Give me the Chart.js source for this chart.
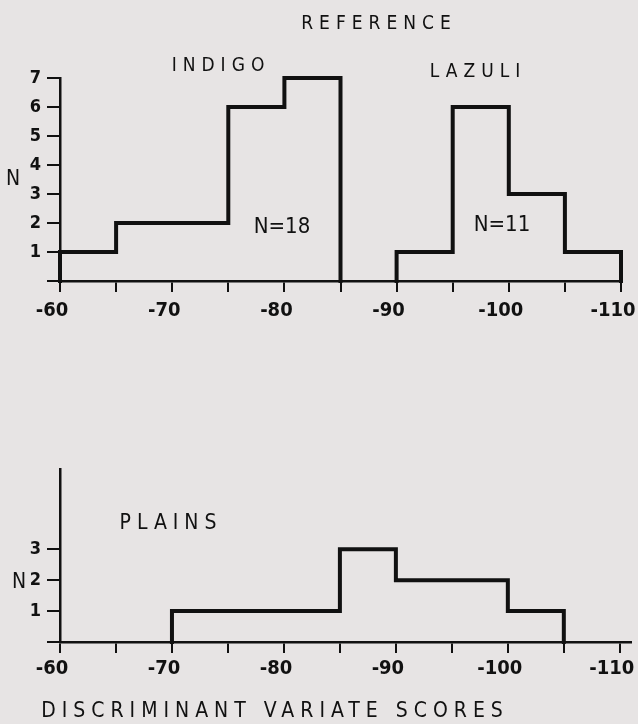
<!DOCTYPE html>
<html>
<head>
<meta charset="utf-8">
<script src="https://cdn.jsdelivr.net/npm/chart.js@4.4.0/dist/chart.umd.min.js"></script>
<style>
  body { margin: 0; background: #e7e4e4; width: 638px; height: 724px; overflow: hidden; position: relative;
         font-family: 'Liberation Sans Narrow', 'DejaVu Sans Condensed', 'Roboto', sans-serif; color: #111; }
  canvas { position: absolute; left: 0; }
  .lbl { position: absolute; white-space: nowrap; transform: translate(-50%, -50%); font-size: 19px; line-height: 1; }
  .sp { letter-spacing: 6px; }
</style>
</head>
<body>
<canvas id="topChart" width="638" height="362" style="top:0"></canvas>
<canvas id="botChart" width="638" height="362" style="top:362px"></canvas>

<div class="lbl sp" style="left:379px;top:22px">REFERENCE</div>
<div class="lbl sp" style="left:221px;top:64px">INDIGO</div>
<div class="lbl sp" style="left:478px;top:70px">LAZULI</div>
<div class="lbl" style="left:282px;top:226px;font-size:22px">N=18</div>
<div class="lbl" style="left:502px;top:224px;font-size:22px">N=11</div>
<div class="lbl" style="left:13px;top:178px;font-size:21px">N</div>
<div class="lbl sp" style="left:171px;top:522px;font-size:21px">PLAINS</div>
<div class="lbl" style="left:19px;top:581px;font-size:21px">N</div>
<div class="lbl sp" style="left:275px;top:710px;font-size:21px">DISCRIMINANT VARIATE SCORES</div>

<script>
// bin edges (left edge of each bin, then the closing edge) and counts per bin
var indigoEdges = [-60, -65, -70, -75, -80, -85];
var indigoCounts = [1, 2, 2, 6, 7];
var lazuliEdges = [-90, -95, -100, -105, -110];
var lazuliCounts = [1, 6, 3, 1];
var plainsEdges = [-70, -75, -80, -85, -90, -95, -100, -105];
var plainsCounts = [1, 1, 1, 3, 2, 2, 1];

var xTicks = [-60, -65, -70, -75, -80, -85, -90, -95, -100, -105, -110];
var xTickLabels = ['-60', '', '-70', '', '-80', '', '-90', '', '-100', '', '-110'];
var topYTicks = [0, 1, 2, 3, 4, 5, 6, 7];
var botYTicks = [0, 1, 2, 3];

// turn edges + counts into step points, closed down to zero at both ends
function stepPoints(edges, counts) {
    var pts = [{x: edges[0], y: 0}];
    for (var i = 0; i < counts.length; i++) {
        pts.push({x: edges[i], y: counts[i]});
    }
    pts.push({x: edges[edges.length - 1], y: 0});
    return pts;
}

function histSet(edges, counts) {
    return {
        data: stepPoints(edges, counts),
        stepped: 'before',
        borderColor: '#111',
        borderWidth: 4,
        pointRadius: 0,
        fill: false,
        clip: false,
        borderJoinStyle: 'miter',
        borderCapStyle: 'square'
    };
}

var fontFam = "'Liberation Sans Narrow', 'DejaVu Sans Condensed', sans-serif";

function makeOptions(xMin, yMax, yTicks, padTop, padRight, xHeight, padBottom, xLabelPad) {
    return {
        responsive: false,
        animation: false,
        layout: {padding: {top: padTop, right: padRight, left: 0, bottom: padBottom}},
        plugins: {legend: {display: false}, tooltip: {enabled: false}},
        scales: {
            x: {
                type: 'linear',
                reverse: true,
                min: xMin,
                max: -60,
                afterBuildTicks: function(scale) {
                    scale.ticks = xTicks.map(function(v) { return {value: v}; });
                },
                afterFit: function(scale) {
                    scale.paddingLeft = 0;
                    scale.paddingRight = 0;
                    scale.height = xHeight;
                },
                ticks: {
                    autoSkip: false,
                    maxRotation: 0,
                    padding: xLabelPad,
                    labelOffset: -8,
                    color: '#111',
                    font: {family: fontFam, size: 20, weight: 'bold'},
                    callback: function(v) {
                        var i = xTicks.indexOf(v);
                        return i >= 0 ? xTickLabels[i] : '';
                    }
                },
                grid: {drawOnChartArea: false, tickLength: 11, color: '#111', lineWidth: 2},
                border: {color: '#111', width: 2.5}
            },
            y: {
                min: 0,
                max: yMax,
                afterBuildTicks: function(scale) {
                    scale.ticks = yTicks.map(function(v) { return {value: v}; });
                },
                afterFit: function(scale) {
                    scale.width = 60;
                },
                ticks: {
                    padding: 6,
                    color: '#111',
                    font: {family: fontFam, size: 18, weight: 'bold'},
                    callback: function(v) { return v === 0 ? '' : String(v); }
                },
                grid: {drawOnChartArea: false, tickLength: 13, color: '#111', lineWidth: 2},
                border: {color: '#111', width: 2.5}
            }
        }
    };
}

new Chart(document.getElementById('topChart'), {
    type: 'line',
    data: {datasets: [histSet(indigoEdges, indigoCounts), histSet(lazuliEdges, lazuliCounts)]},
    options: makeOptions(-110, 7, topYTicks, 78, 17, 81, 0, 7)
});

new Chart(document.getElementById('botChart'), {
    type: 'line',
    data: {datasets: [histSet(plainsEdges, plainsCounts)]},
    options: makeOptions(-111, 5.6, botYTicks, 107, 7, 42, 40, 4)
});
</script>
</body>
</html>
